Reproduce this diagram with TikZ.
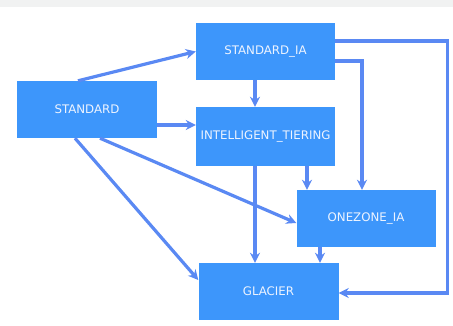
\documentclass[tikz,border=0pt]{standalone}
\usepackage{fontspec}
\setmainfont{DejaVu Sans}
\usetikzlibrary{arrows.meta}
\definecolor{boxfill}{HTML}{3D96FB}
\definecolor{linkblue}{HTML}{5A89F3}
\definecolor{topband}{HTML}{F1F2F2}
\definecolor{boxtext}{HTML}{EEF4FF}

\begin{document}
\begin{tikzpicture}[x=1pt,y=-1pt,
  tier/.style={fill=boxfill,draw=none,text=boxtext,font=\fontsize{11.8}{14}\selectfont,
    minimum width=139pt,minimum height=57pt,inner sep=0pt},
  link/.style={linkblue,line width=3.2pt,-{Stealth[length=10pt,width=10pt]}}]
  \useasboundingbox (0,0) rectangle (453,325);
  \fill[topband] (0,0) rectangle (453,7);

  \node[tier,minimum width=140pt] (std) at (87,109.5) {STANDARD};
  \node[tier] (stdia) at (265.5,51.5) {STANDARD\_IA};
  \node[tier,minimum height=59pt] (it) at (265.5,136.5) {INTELLIGENT\_TIERING};
  \node[tier] (oz) at (366,218.5) {ONEZONE\_IA};
  \node[tier,minimum width=140pt] (gl) at (268.5,291.5) {GLACIER};

  \coordinate (itin) at ([yshift=11.5pt]it.west);
  \coordinate (itleft) at ([xshift=-10.5pt]it.south);
  \coordinate (itright) at ([xshift=41.5pt]it.south);
  \coordinate (ozout) at ([xshift=-46pt]oz.south);

  % from STANDARD
  \draw[link] ([xshift=-9pt]std.north) -- (stdia.west);
  \draw[link] (std.east |- itin) -- (itin);
  \draw[link] ([xshift=-12pt]std.south) -- ([yshift=11.5pt]gl.west);
  \draw[link] ([xshift=13pt]std.south) -- ([yshift=-4.5pt]oz.west);

  % from STANDARD_IA
  \draw[link] ([xshift=-10.5pt]stdia.south) -- ([xshift=-10.5pt]it.north);
  \draw[link] ([yshift=-9.5pt]stdia.east) -| ([xshift=-4pt]oz.north);
  \draw[link] ([yshift=10.5pt]stdia.east) -- ++(112,0) |- ([yshift=-1.5pt]gl.east);

  % from INTELLIGENT_TIERING and ONEZONE_IA
  \draw[link] (itleft) -- (itleft |- gl.north);
  \draw[link] (itright) -- (itright |- oz.north);
  \draw[link] (ozout) -- (ozout |- gl.north);
\end{tikzpicture}
\end{document}
